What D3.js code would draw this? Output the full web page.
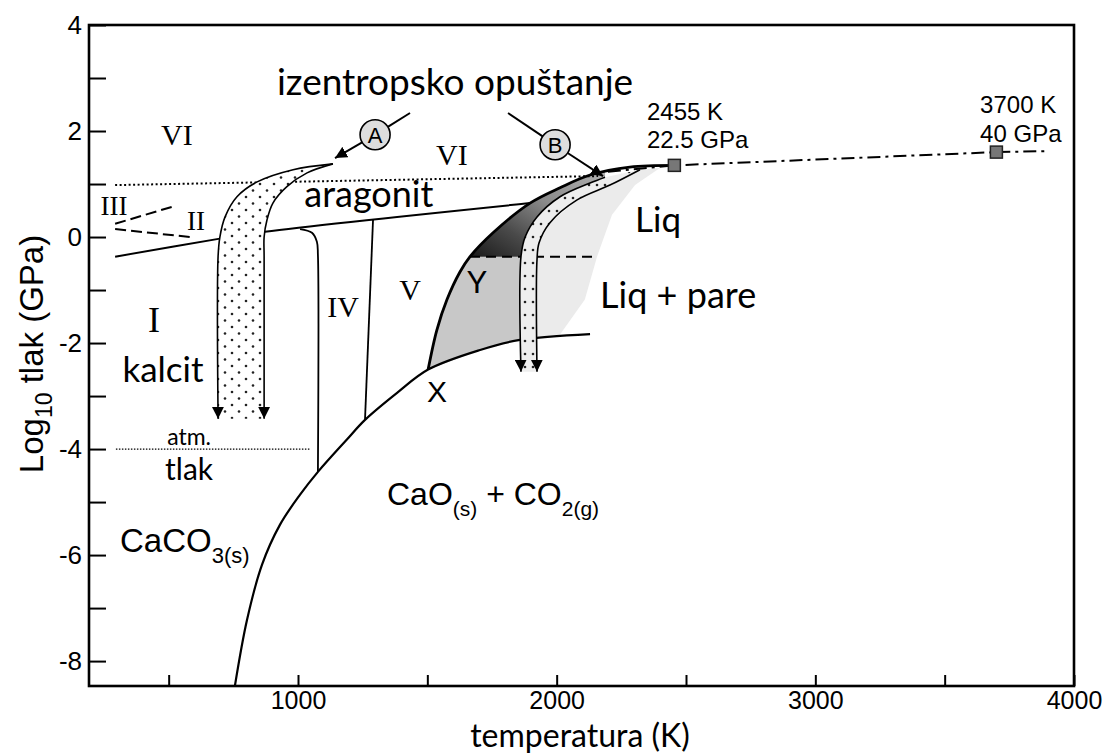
<!DOCTYPE html>
<html>
<head>
<meta charset="utf-8">
<script src="https://cdnjs.cloudflare.com/ajax/libs/d3/7.8.5/d3.min.js"></script>
<style>
body { margin: 0; background: #fff; }
</style>
</head>
<body>
<script>
// axis ticks
const xTicks = [500, 1000, 1500, 2000, 2500, 3000, 3500, 4000];
const xLabels = [1000, 2000, 3000, 4000];
const yTicks = [-8, -7, -6, -5, -4, -3, -2, -1, 0, 1, 2, 3, 4];
const yLabels = [-8, -6, -4, -2, 0, 2, 4];

// phase boundaries, [T in K, log10 p in GPa]
const decompCurve = [[756,-8.47],[803,-7.22],[861,-6.18],[930,-5.43],[1008,-4.86],[1077,-4.43],[1189,-3.82],[1259,-3.45],[1383,-2.94],[1503,-2.50],[1704,-2.13],[1858,-1.94],[2129,-1.83]];
const aragoniteLine = [[293,-0.37],[698,-0.03],[872,0.10],[1897,0.64]];
const dottedLine = [[293,0.98],[2160,1.15]];
const atmLine = [[296,-4],[1046,-4]];
const dashIII = [[293,0.25],[513,0.57]];
const dashII = [[293,0.15],[583,0.0]];
const ivLeft = [[1008,0.15],[1054,0.08],[1073,-0.09],[1077,-0.34],[1077,-4.43]];
const ivRight = [[1290,0.32],[1259,-3.45]];
const meltCurve = [[1503,-2.50],[1537,-1.75],[1576,-1.18],[1626,-0.66],[1665,-0.37],[1754,0.08],[1897,0.64],[2013,0.93],[2129,1.17],[2283,1.32],[2455,1.352]];
const liqDashed = [[1665,-0.37],[2156,-0.37]];
const critLine = [[2198,1.23],[2455,1.352],[3700,1.602],[3896,1.62]];
const critPoints = [[2455,1.352],[3700,1.602]];

// isentropic paths
const pathALeft = [[1135,1.38],[981,1.27],[842,1.04],[764,0.76],[718,0.38],[698,0.0],[691,-0.37],[691,-3.43]];
const pathARight = [[1135,1.38],[1035,1.21],[957,0.95],[903,0.64],[880,0.32],[869,0.0],[869,-0.37],[869,-3.43]];
const pathBLeft = [[2187,1.13],[2129,1.02],[2013,0.76],[1924,0.38],[1878,0.0],[1862,-0.37],[1862,-2.54]];
const pathBRight = [[2322,1.27],[2206,0.98],[2079,0.70],[1974,0.27],[1932,-0.11],[1924,-0.43],[1924,-2.54]];

// shaded areas
const regionY = [[1503,-2.50],[1537,-1.75],[1576,-1.18],[1626,-0.66],[1665,-0.37],[1862,-0.37],[1862,-1.94],[1704,-2.13]];
const regionDark = [[1665,-0.37],[1754,0.08],[1897,0.64],[2013,0.93],[2129,1.17],[2187,1.23],[2187,1.13],[2129,1.02],[2013,0.76],[1924,0.38],[1878,0.0],[1862,-0.37]];
const regionLiq = [[2322,1.27],[2206,0.98],[2079,0.70],[1974,0.27],[1932,-0.11],[1924,-0.43],[1924,-1.88],[2013,-1.84],[2109,-1.18],[2156,-0.37],[2214,0.42],[2303,0.98],[2399,1.30]];

// circled markers and labels
const markers = [
  {name: "A", c: [1298,1.93], from: [1433,2.34], to: [1143,1.49]},
  {name: "B", c: [1994,1.74], from: [1812,2.34], to: [2179,1.15]}
];
const sansLabels = [
  {t: "izentropsko opuštanje", p: [1607,2.68], size: 37, anchor: "middle"},
  {t: "aragonit", p: [1274,0.57], size: 36, anchor: "middle"},
  {t: "kalcit", p: [478,-2.73], size: 35, anchor: "middle"},
  {t: "atm.", p: [579,-3.92], size: 23, anchor: "middle"},
  {t: "tlak", p: [579,-4.58], size: 30, anchor: "middle"},
  {t: "Liq", p: [2303,0.10], size: 35, anchor: "start"},
  {t: "Liq + pare", p: [2168,-1.34], size: 36, anchor: "start"},
  {t: "Y", p: [1692,-1.05], size: 31, anchor: "middle"}
];
const romanLabels = [
  {t: "VI", p: [532,1.74], size: 30},
  {t: "VI", p: [1595,1.36], size: 30},
  {t: "III", p: [289,0.42], size: 27},
  {t: "II", p: [606,0.135], size: 27},
  {t: "I", p: [443,-1.79], size: 36},
  {t: "IV", p: [1174,-1.51], size: 30},
  {t: "V", p: [1433,-1.18], size: 30}
];
const pointLabels = [
  {t: "2455 K", p: [2349,2.21]},
  {t: "22.5 GPa", p: [2349,1.68]},
  {t: "3700 K", p: [3637,2.34]},
  {t: "40 GPa", p: [3637,1.79]}
];

const W = 1110, H = 755;
const margin = {top: 25, right: 36, bottom: 69, left: 89};
const width = W - margin.left - margin.right,
      height = H - margin.top - margin.bottom;

const svg = d3.select("body").append("svg")
  .attr("width", W).attr("height", H);

const defs = svg.append("defs");
defs.append("clipPath").attr("id", "plot")
  .append("rect").attr("width", width).attr("height", height);

const dots = defs.append("pattern").attr("id", "dots")
  .attr("width", 14).attr("height", 13).attr("patternUnits", "userSpaceOnUse");
dots.append("rect").attr("width", 14).attr("height", 13).attr("fill", "#fff");
dots.append("circle").attr("cx", 3).attr("cy", 3).attr("r", 1.3).attr("fill", "#222");
dots.append("circle").attr("cx", 10).attr("cy", 9.5).attr("r", 1.3).attr("fill", "#222");

const dotsB = defs.append("pattern").attr("id", "dotsB")
  .attr("width", 8).attr("height", 13).attr("patternUnits", "userSpaceOnUse");
dotsB.append("rect").attr("width", 8).attr("height", 13).attr("fill", "#eee");
dotsB.append("circle").attr("cx", 4).attr("cy", 4).attr("r", 1.3).attr("fill", "#222");

const grad = defs.append("linearGradient").attr("id", "darkGrad")
  .attr("x1", "0%").attr("y1", "100%").attr("x2", "100%").attr("y2", "0%");
grad.append("stop").attr("offset", "0%").attr("stop-color", "#1a1a1a");
grad.append("stop").attr("offset", "30%").attr("stop-color", "#4a4a4a");
grad.append("stop").attr("offset", "60%").attr("stop-color", "#8a8a8a");
grad.append("stop").attr("offset", "100%").attr("stop-color", "#b0b0b0");

defs.append("marker").attr("id", "arrow")
  .attr("viewBox", "0 0 10 10").attr("refX", 10).attr("refY", 5)
  .attr("markerWidth", 12).attr("markerHeight", 12)
  .attr("markerUnits", "userSpaceOnUse").attr("orient", "auto")
  .append("path").attr("d", "M0,0L10,5L0,10z").attr("fill", "#000");

const g = svg.append("g")
  .attr("transform", "translate(" + margin.left + "," + margin.top + ")");

const x = d3.scaleLinear().domain([192, 4000]).range([0, width]);
const y = d3.scaleLinear().domain([-8.47, 4]).range([height, 0]);

const smooth = d3.line().x(d => x(d[0])).y(d => y(d[1])).curve(d3.curveCatmullRom.alpha(0.5));
const straight = d3.line().x(d => x(d[0])).y(d => y(d[1]));

const plot = g.append("g").attr("clip-path", "url(#plot)");

// shaded areas
plot.append("path").attr("d", straight(regionLiq) + "Z").attr("fill", "#ebebeb");
plot.append("path").attr("d", straight(regionY) + "Z").attr("fill", "#c8c8c8");
plot.append("path").attr("d", straight(regionDark) + "Z").attr("fill", "url(#darkGrad)");

// phase lines
function drawLine(data, gen, w, dash) {
  return plot.append("path").attr("d", gen(data))
    .attr("fill", "none").attr("stroke", "#000")
    .attr("stroke-width", w).attr("stroke-dasharray", dash || null);
}
drawLine(dottedLine, straight, 2, "2,2.5");
drawLine(atmLine, straight, 1.3, "1.5,1.5");
drawLine(dashIII, straight, 2, "11,5");
drawLine(dashII, straight, 2, "11,5");
drawLine(aragoniteLine, smooth, 2);
drawLine(ivLeft, smooth, 1.8);
drawLine(ivRight, straight, 1.8);
drawLine(decompCurve, smooth, 2.2);
drawLine(liqDashed, straight, 2, "10,6");
drawLine(meltCurve, smooth, 2.8);
drawLine(critLine, straight, 2, "13,5,3,5");

// path A band
plot.append("path")
  .attr("d", smooth(pathALeft) + "L" + smooth(pathARight.slice().reverse()).slice(1) + "Z")
  .attr("fill", "url(#dots)");
drawLine(pathALeft, smooth, 1.6).attr("marker-end", "url(#arrow)");
drawLine(pathARight, smooth, 1.6).attr("marker-end", "url(#arrow)");

// path B band
plot.append("path")
  .attr("d", smooth(pathBLeft) + "L" + smooth(pathBRight.slice().reverse()).slice(1) + "Z")
  .attr("fill", "url(#dotsB)");
drawLine(pathBLeft, smooth, 1.6).attr("marker-end", "url(#arrow)");
drawLine(pathBRight, smooth, 1.6).attr("marker-end", "url(#arrow)");

// critical points
plot.selectAll("rect.crit").data(critPoints).join("rect")
  .attr("class", "crit")
  .attr("x", d => x(d[0]) - 6).attr("y", d => y(d[1]) - 6)
  .attr("width", 12).attr("height", 12)
  .attr("fill", "#777").attr("stroke", "#222").attr("stroke-width", 1.5);

// circled markers
const R = 15;
markers.forEach(m => {
  const cx = x(m.c[0]), cy = y(m.c[1]);
  const fx = x(m.from[0]), fy = y(m.from[1]);
  const tx = x(m.to[0]), ty = y(m.to[1]);
  const a1 = Math.atan2(fy - cy, fx - cx), a2 = Math.atan2(ty - cy, tx - cx);
  g.append("line").attr("x1", fx).attr("y1", fy)
    .attr("x2", cx + R * Math.cos(a1)).attr("y2", cy + R * Math.sin(a1))
    .attr("stroke", "#000").attr("stroke-width", 2);
  g.append("line").attr("x1", cx + R * Math.cos(a2)).attr("y1", cy + R * Math.sin(a2))
    .attr("x2", tx).attr("y2", ty)
    .attr("stroke", "#000").attr("stroke-width", 2)
    .attr("marker-end", "url(#arrow)");
  g.append("circle").attr("cx", cx).attr("cy", cy).attr("r", R)
    .attr("fill", "#ddd").attr("stroke", "#000").attr("stroke-width", 1.6);
  g.append("text").attr("x", cx).attr("y", cy + 8)
    .attr("text-anchor", "middle")
    .attr("font-family", "Liberation Sans, Arial, sans-serif")
    .attr("font-size", 22).text(m.name);
});

// labels
g.selectAll("text.sans").data(sansLabels).join("text")
  .attr("class", "sans")
  .attr("x", d => x(d.p[0])).attr("y", d => y(d.p[1]))
  .attr("text-anchor", d => d.anchor)
  .attr("font-family", "Lato, 'Open Sans', sans-serif")
  .attr("font-size", d => d.size)
  .text(d => d.t);

g.append("text")
  .attr("x", x(1537)).attr("y", y(-3.11))
  .attr("text-anchor", "middle")
  .attr("font-family", "Liberation Sans, Arial, sans-serif")
  .attr("font-size", 30).text("X");

g.selectAll("text.roman").data(romanLabels).join("text")
  .attr("class", "roman")
  .attr("x", d => x(d.p[0])).attr("y", d => y(d.p[1]))
  .attr("text-anchor", "middle")
  .attr("font-family", "Liberation Serif, 'Times New Roman', serif")
  .attr("font-size", d => d.size)
  .text(d => d.t);

g.selectAll("text.pt").data(pointLabels).join("text")
  .attr("class", "pt")
  .attr("x", d => x(d.p[0])).attr("y", d => y(d.p[1]))
  .attr("font-family", "Liberation Sans, Arial, sans-serif")
  .attr("font-size", 24)
  .text(d => d.t);

// chemical formulae
const caco3 = g.append("text")
  .attr("x", x(312)).attr("y", y(-5.95))
  .attr("font-family", "Liberation Sans, Arial, sans-serif").attr("font-size", 33);
caco3.append("tspan").text("CaCO");
caco3.append("tspan").attr("dy", 11).attr("font-size", 22).text("3(s)");

const cao = g.append("text")
  .attr("x", x(1344)).attr("y", y(-5.05))
  .attr("font-family", "Liberation Sans, Arial, sans-serif").attr("font-size", 32);
cao.append("tspan").text("CaO");
cao.append("tspan").attr("dy", 11).attr("font-size", 21).text("(s)");
cao.append("tspan").attr("dy", -11).text(" + CO");
cao.append("tspan").attr("dy", 11).attr("font-size", 21).text("2(g)");

// axes
const yAxis = g.append("g")
  .call(d3.axisLeft(y).tickValues(yTicks).tickSize(-17).tickPadding(7)
    .tickFormat(d => yLabels.includes(d) ? d : ""));
const xAxis = g.append("g").attr("transform", "translate(0," + height + ")")
  .call(d3.axisBottom(x).tickValues(xTicks).tickSize(-11).tickPadding(5)
    .tickFormat(d => xLabels.includes(d) ? d : ""));

[yAxis, xAxis].forEach(a => {
  a.select(".domain").remove();
  a.selectAll(".tick line").attr("stroke", "#000").attr("stroke-width", 2);
  a.selectAll(".tick text").attr("fill", "#000")
    .attr("font-family", "Liberation Sans, Arial, sans-serif").attr("font-size", 26);
});
xAxis.selectAll(".tick text").attr("font-size", 25);

g.append("rect").attr("width", width).attr("height", height)
  .attr("fill", "none").attr("stroke", "#000").attr("stroke-width", 2.6);

// axis titles
svg.append("text")
  .attr("x", 580).attr("y", 747)
  .attr("text-anchor", "middle")
  .attr("font-family", "Lato, 'Open Sans', sans-serif").attr("font-size", 32)
  .text("temperatura (K)");

const yTitle = svg.append("text")
  .attr("transform", "translate(43,354) rotate(-90)")
  .attr("text-anchor", "middle")
  .attr("font-family", "Liberation Sans, Arial, sans-serif").attr("font-size", 33);
yTitle.append("tspan").text("Log");
yTitle.append("tspan").attr("dy", 9).attr("font-size", 23).text("10");
yTitle.append("tspan").attr("dy", -9).text(" tlak (GPa)");
</script>
</body>
</html>
